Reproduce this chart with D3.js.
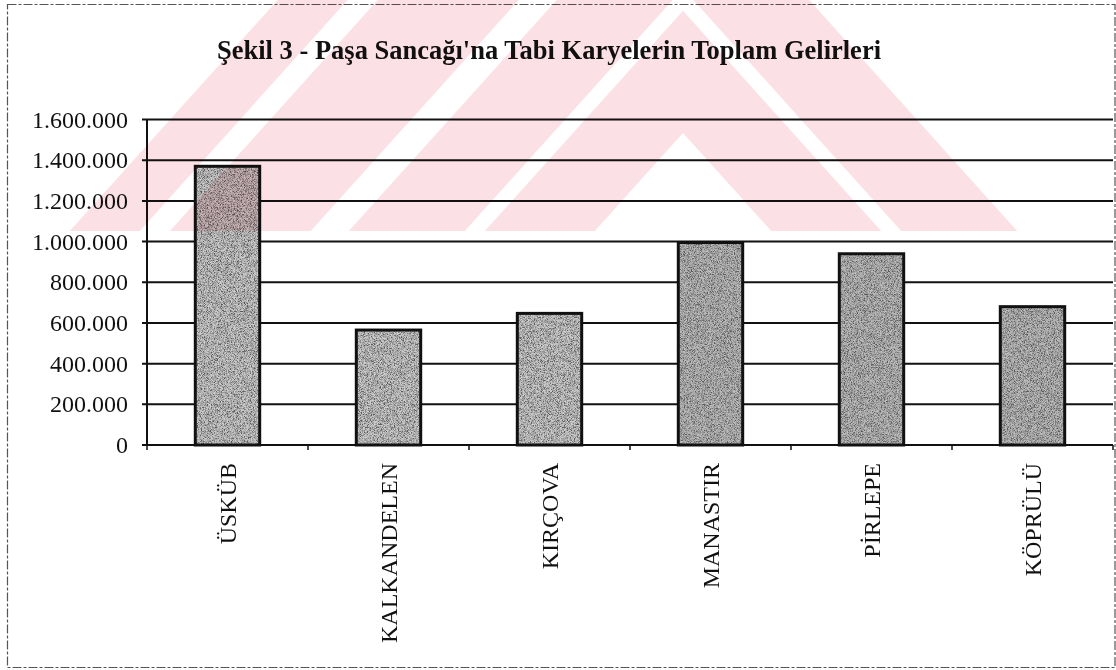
<!DOCTYPE html>
<html>
<head>
<meta charset="utf-8">
<script src="https://cdn.jsdelivr.net/npm/d3@7"></script>
<style>
  body { margin: 0; background: #fff; }
  svg { display: block; }
  text { font-family: "Liberation Serif", "Times New Roman", serif; fill: #111; }
</style>
</head>
<body>
<div id="chart"></div>
<script>
var categories = ["ÜSKÜB", "KALKANDELEN", "KIRÇOVA", "MANASTIR", "PİRLEPE", "KÖPRÜLÜ"];
var revenues = [1370000, 565000, 647000, 995000, 940000, 680000];
var yTicks = [0, 200000, 400000, 600000, 800000, 1000000, 1200000, 1400000, 1600000];
var title = "Şekil 3 - Paşa Sancağı'na Tabi Karyelerin Toplam Gelirleri";

var W = 1116, H = 670;
var plot = {left: 147, right: 1113, top: 119.5, bottom: 445};

var svg = d3.select("#chart")
  .append("svg")
    .attr("width", W)
    .attr("height", H);

// grainy fill like the scanned bars
var defs = svg.append("defs");
var f = defs.append("filter").attr("id", "grain")
  .attr("x", 0).attr("y", 0).attr("width", 1).attr("height", 1);
f.append("feTurbulence").attr("type", "fractalNoise").attr("baseFrequency", 1.3)
  .attr("numOctaves", 1).attr("seed", 4).attr("result", "noise");
f.append("feColorMatrix").attr("in", "noise").attr("type", "matrix")
  .attr("values", "0 0 0 0 0.1  0 0 0 0 0.1  0 0 0 0 0.1  3 0 0 0 -1.1")
  .attr("result", "dots");
f.append("feComposite").attr("in", "dots").attr("in2", "SourceGraphic")
  .attr("operator", "in").attr("result", "clipped");
var m = f.append("feMerge");
m.append("feMergeNode").attr("in", "SourceGraphic");
m.append("feMergeNode").attr("in", "clipped");

defs.append("clipPath").attr("id", "wmclip")
  .append("rect").attr("x", 0).attr("y", 0).attr("width", W).attr("height", 231);

// outer frame
svg.append("rect")
  .attr("x", 7.5).attr("y", 4.5)
  .attr("width", 1107.5).attr("height", 663)
  .attr("fill", "none")
  .attr("stroke", "#555")
  .attr("stroke-width", 1.2)
  .attr("stroke-dasharray", "9,2,3,2");

// title
svg.append("text")
  .attr("x", 549).attr("y", 59)
  .attr("text-anchor", "middle")
  .style("font-size", "26.5px")
  .style("font-weight", "bold")
  .text(title);

var x = d3.scaleBand()
  .domain(categories)
  .range([plot.left, plot.right])
  .paddingInner(0.6)
  .paddingOuter(0.3);

var y = d3.scaleLinear()
  .domain([0, 1600000])
  .range([plot.bottom, plot.top]);

var tr = d3.formatLocale({decimal: ",", thousands: ".", grouping: [3], currency: ["", ""]});
var fmt = tr.format(",");

// gridlines
svg.append("g")
  .selectAll("line")
  .data(yTicks)
  .enter()
  .append("line")
    .attr("x1", plot.left - 5)
    .attr("x2", plot.right)
    .attr("y1", function(d) { return y(d); })
    .attr("y2", function(d) { return y(d); })
    .attr("stroke", "#111")
    .attr("stroke-width", 2);

// y axis labels
svg.append("g")
  .selectAll("text")
  .data(yTicks)
  .enter()
  .append("text")
    .attr("x", 128)
    .attr("y", function(d) { return y(d); })
    .attr("dy", "0.34em")
    .attr("text-anchor", "end")
    .style("font-size", "24px")
    .text(function(d) { return fmt(d); });

// left axis line
svg.append("line")
  .attr("x1", plot.left).attr("x2", plot.left)
  .attr("y1", y(1600000)).attr("y2", y(0))
  .attr("stroke", "#111").attr("stroke-width", 2);

// category boundary ticks
var bounds = categories.map(function(c) { return x(c) - x.step() * 0.3; });
bounds.push(plot.right);
svg.append("g")
  .selectAll("line")
  .data(bounds)
  .enter()
  .append("line")
    .attr("x1", function(d) { return d; })
    .attr("x2", function(d) { return d; })
    .attr("y1", y(0))
    .attr("y2", y(0) + 5)
    .attr("stroke", "#111")
    .attr("stroke-width", 1.5);

//Bars
var data = categories.map(function(c, i) { return {cat: c, value: revenues[i]}; });

svg.selectAll("rect.bar")
  .data(data)
  .enter()
  .append("rect")
    .attr("class", "bar")
    .attr("x", function(d) { return x(d.cat); })
    .attr("y", function(d) { return y(d.value); })
    .attr("width", x.bandwidth())
    .attr("height", function(d) { return y(0) - y(d.value); })
    .attr("fill", function(d, i) { return i < 3 ? "#cdcdcd" : "#bdbdbd"; })
    .attr("filter", "url(#grain)");

svg.selectAll("rect.outline")
  .data(data)
  .enter()
  .append("rect")
    .attr("class", "outline")
    .attr("x", function(d) { return x(d.cat); })
    .attr("y", function(d) { return y(d.value); })
    .attr("width", x.bandwidth())
    .attr("height", function(d) { return y(0) - y(d.value); })
    .attr("fill", "none")
    .attr("stroke", "#111")
    .attr("stroke-width", 3);

// category labels
svg.append("g")
  .selectAll("text")
  .data(categories)
  .enter()
  .append("text")
    .attr("transform", function(d) {
      return "translate(" + (x(d) + x.bandwidth() / 2) + "," + 463 + ")rotate(-90)";
    })
    .attr("dy", "0.34em")
    .attr("text-anchor", "end")
    .style("font-size", "24px")
    .text(function(d) { return d; });

// scanned page watermark: nested pink chevrons, laid over with multiply
var apexX = 683, apexY = 133, slope = 0.9, cutY = 231;
function edge(side, d, yy) { return apexX + side * (slope * (yy - apexY) + d); }
function chevron(d1, d2) {
  // outer and inner Λ, even-odd gives the band
  var tOut = apexY - d2 / slope, tIn = apexY - d1 / slope;
  return "M" + apexX + "," + tOut + "L" + edge(1, d2, cutY) + "," + cutY + "L" + edge(-1, d2, cutY) + "," + cutY + "Z" +
         "M" + apexX + "," + tIn + "L" + edge(1, d1, cutY) + "," + cutY + "L" + edge(-1, d1, cutY) + "," + cutY + "Z";
}
function leftStripe(d1, d2) {
  return "M" + edge(-1, d1, 0) + ",0L" + edge(-1, d2, 0) + ",0L" + edge(-1, d2, cutY) + "," + cutY +
         "L" + edge(-1, d1, cutY) + "," + cutY + "Z";
}
var wm = svg.append("g")
  .attr("clip-path", "url(#wmclip)")
  .style("mix-blend-mode", "multiply");
wm.selectAll("path.chev")
  .data([[0, 110], [130, 246]])
  .enter()
  .append("path")
    .attr("d", function(d) { return chevron(d[0], d[1]); })
    .attr("fill-rule", "evenodd")
    .attr("fill", "#fbe1e5");
wm.selectAll("path.side")
  .data([[284, 425], [455, 525]])
  .enter()
  .append("path")
    .attr("d", function(d) { return leftStripe(d[0], d[1]); })
    .attr("fill", "#fbe1e5");
</script>
</body>
</html>
